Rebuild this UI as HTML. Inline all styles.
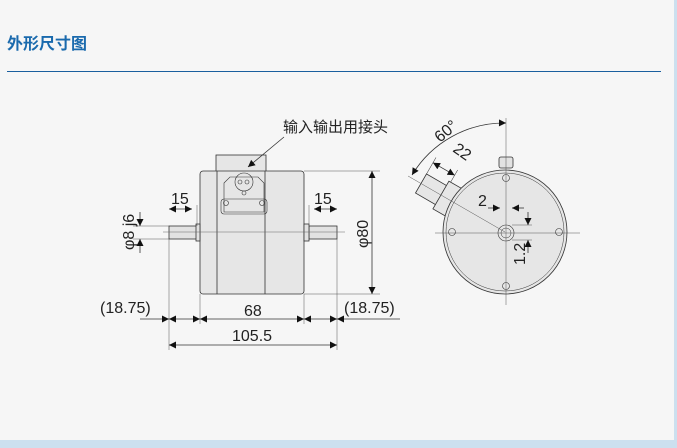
<!DOCTYPE html>
<html><head><meta charset="utf-8"><style>
html,body{margin:0;padding:0;background:#cce0ef;}
#p{position:absolute;left:0;top:0;width:674px;height:440px;background:#f6f6f6;}
svg{position:absolute;left:0;top:0;}
text{font-family:"Liberation Sans","Noto Sans CJK SC",sans-serif;fill:#222;}
</style></head><body><div id="p">
<svg width="677" height="448" viewBox="0 0 677 448">
<defs>
<marker id="a" viewBox="0 0 10 10" refX="10" refY="5" markerWidth="10" markerHeight="7" orient="auto-start-reverse" markerUnits="userSpaceOnUse"><path d="M0,0L10,5L0,10z" fill="#111"/></marker>
</defs>
<text x="7" y="49" font-size="16" font-weight="bold" style="fill:#1a6aad">外形尺寸图</text>
<rect x="7" y="71" width="654" height="1" fill="#1a5f9e"/>

<g stroke="#333" stroke-width="0.8" fill="none">
<rect x="216" y="155" width="50" height="17" fill="#e6e6e6"/>
<rect x="200" y="171" width="104" height="123" rx="3" fill="#e6e6e6"/>
<line x1="217" y1="171" x2="217" y2="294"/><line x1="265" y1="171" x2="265" y2="294"/>
<rect x="169" y="226" width="28" height="13" fill="#e2e2e2"/>
<rect x="196" y="224" width="4" height="17" fill="#e2e2e2"/>
<rect x="309" y="226" width="28" height="13" fill="#e2e2e2"/>
<rect x="304" y="224" width="5" height="17" fill="#e2e2e2"/>
<path d="M224,183 L230,177 L258,177 L264,183 L264,212 L224,212 Z" stroke-width="0.6"/>
<rect x="221" y="199" width="46" height="15" rx="3" stroke-width="0.6"/>
<circle cx="244" cy="182" r="9" stroke-width="0.6"/>
<circle cx="240" cy="182" r="2" stroke-width="0.6"/><circle cx="247" cy="182" r="2" stroke-width="0.6"/>
<circle cx="244" cy="193" r="2" stroke-width="0.6"/>
<circle cx="226" cy="203" r="2.5" stroke-width="0.6"/><circle cx="262" cy="203" r="2.5" stroke-width="0.6"/>
<line x1="163" y1="232" x2="345" y2="232" stroke-width="0.5" stroke="#666"/>
<g stroke-width="0.5" stroke="#555">
<line x1="169" y1="239" x2="169" y2="350"/><line x1="337" y1="239" x2="337" y2="350"/>
<line x1="200" y1="294" x2="200" y2="324"/><line x1="304" y1="294" x2="304" y2="324"/>
<line x1="197" y1="226" x2="197" y2="205"/><line x1="309" y1="226" x2="309" y2="205"/>
<line x1="304" y1="171" x2="380" y2="171"/><line x1="304" y1="294" x2="380" y2="294"/>
<line x1="133" y1="226" x2="169" y2="226"/><line x1="133" y1="239" x2="169" y2="239"/>
</g>
<line x1="169" y1="209" x2="192" y2="209" marker-start="url(#a)" marker-end="url(#a)"/>
<line x1="314" y1="209" x2="337" y2="209" marker-start="url(#a)" marker-end="url(#a)"/>
<line x1="140" y1="212" x2="140" y2="226" marker-end="url(#a)"/>
<line x1="140" y1="253" x2="140" y2="239" marker-end="url(#a)"/>
<line x1="372" y1="171" x2="372" y2="294" marker-start="url(#a)" marker-end="url(#a)"/>
<line x1="140" y1="319" x2="169" y2="319" marker-end="url(#a)"/>
<line x1="169" y1="319" x2="200" y2="319" marker-start="url(#a)" marker-end="url(#a)"/>
<line x1="200" y1="319" x2="304" y2="319" marker-start="url(#a)" marker-end="url(#a)"/>
<line x1="304" y1="319" x2="337" y2="319" marker-start="url(#a)" marker-end="url(#a)"/>
<line x1="337" y1="319" x2="400" y2="319" marker-start="url(#a)"/>
<line x1="169" y1="345" x2="337" y2="345" marker-start="url(#a)" marker-end="url(#a)"/>
<line x1="284" y1="137" x2="248" y2="167" marker-end="url(#a)"/>

<rect x="499" y="157" width="14" height="11" rx="2" fill="#e2e2e2"/>
<g transform="translate(505,232) rotate(30)">
<rect x="-97" y="-11" width="25" height="22" fill="#e6e6e6"/>
<rect x="-74" y="-16" width="15" height="32" fill="#e6e6e6"/>
<line x1="-97" y1="-11" x2="-97" y2="-30" stroke-width="0.5"/>
<line x1="-72" y1="-16" x2="-72" y2="-30" stroke-width="0.5"/>
<line x1="-97" y1="-24" x2="-72" y2="-24" marker-start="url(#a)" marker-end="url(#a)"/>
</g>
<circle cx="505" cy="232" r="62" fill="#e6e6e6"/>
<circle cx="505" cy="232" r="59" stroke-width="0.5"/>
<circle cx="506" cy="233" r="8" stroke-width="0.6"/>
<circle cx="506" cy="233" r="5" stroke-width="0.5"/>
<g stroke-width="0.6">
<circle cx="452" cy="232" r="3.5"/><circle cx="559" cy="232" r="3.5"/>
<circle cx="506" cy="178" r="3.5"/><circle cx="506" cy="286" r="3.5"/>
</g>
<g stroke-width="0.5" stroke="#555">
<line x1="506" y1="118" x2="506" y2="305"/><line x1="435" y1="233" x2="580" y2="233"/>
<line x1="505" y1="232" x2="408" y2="176"/>
<line x1="512" y1="225" x2="532" y2="225"/><line x1="512" y1="240" x2="532" y2="240"/>
</g>
<path d="M412,175 A108,108 0 0 1 506,123" marker-start="url(#a)" marker-end="url(#a)"/>
<line x1="488" y1="208" x2="500" y2="208" marker-end="url(#a)"/>
<line x1="524" y1="208" x2="512" y2="208" marker-end="url(#a)"/>
<line x1="528" y1="212" x2="528" y2="225" marker-end="url(#a)"/>
<line x1="528" y1="253" x2="528" y2="240" marker-end="url(#a)"/>
</g>

<g font-size="16">
<text x="283" y="132" font-size="15">输入输出用接头</text>
<text x="171" y="204">15</text>
<text x="314" y="204">15</text>
<text x="244" y="316">68</text>
<text x="100" y="313">(18.75)</text>
<text x="344" y="313">(18.75)</text>
<text x="232" y="341">105.5</text>
<text transform="translate(134,250) rotate(-90)">φ8 j6</text>
<text transform="translate(368,248) rotate(-90)">φ80</text>
<text transform="translate(440,143) rotate(-40)">60°</text>
<text transform="translate(452,151) rotate(35)">22</text>
<text x="478" y="206">2</text>
<text transform="translate(525,265) rotate(-90)">1.2</text>
</g>
</svg></div></body></html>
